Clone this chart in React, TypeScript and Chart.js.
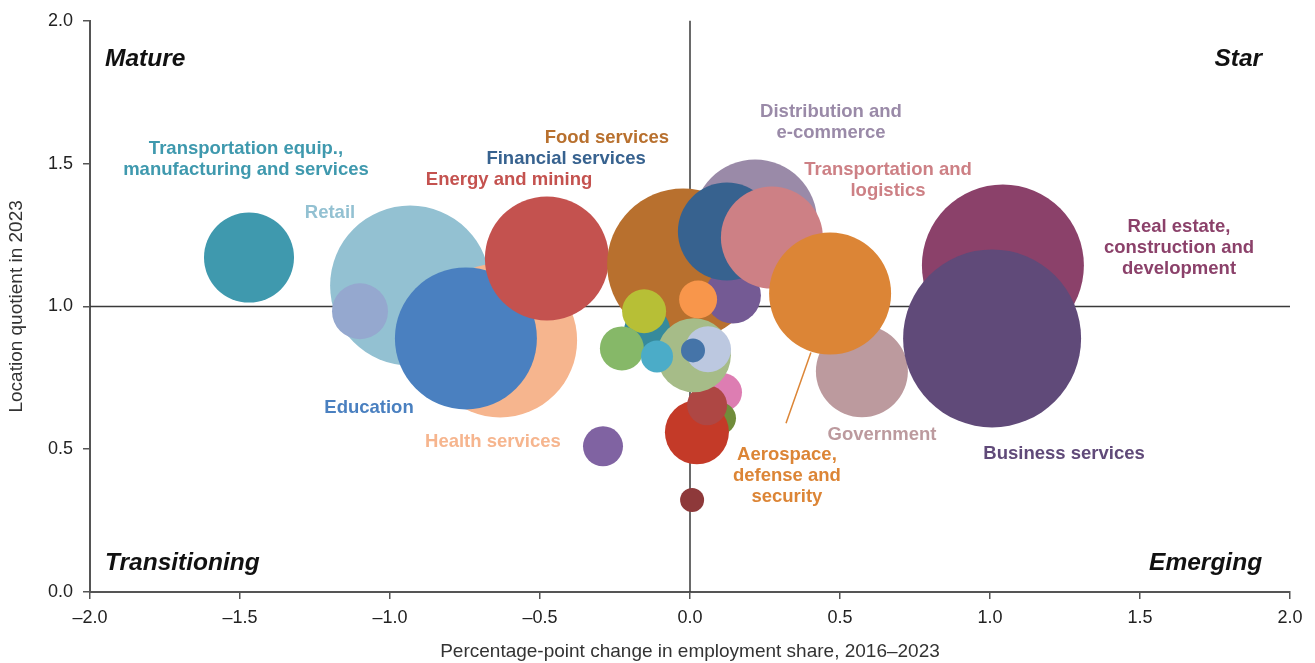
import React, { useEffect, useRef } from "react";
import { Chart, registerables } from "chart.js";

Chart.register(...registerables);

// ---------- data (drawing order: later items sit on top) ----------
const industries = [
  "Retail", "Other services A", "Health services", "Education",
  "Transportation equip., manufacturing and services", "Energy and mining",
  "Food services", "Distribution and e-commerce", "Other services B",
  "Financial services", "Other services C", "Transportation and logistics",
  "Government", "Aerospace, defense and security",
  "Real estate, construction and development", "Business services",
  "Other services D", "Other services E", "Other services F", "Other services G",
  "Other services H", "Other services I", "Other services J", "Other services K",
  "Other services L", "Other services M", "Other services N", "Other services O",
  "Other services P",
];
const shareChange = [
  -0.933, -1.1, -0.633, -0.747,
  -1.47, -0.477,
  -0.023, 0.217, 0.143,
  0.123, 0.027, 0.273,
  0.573, 0.467,
  1.043, 1.007,
  -0.143, -0.153, -0.227, 0.11,
  0.1, 0.023, 0.057, 0.013,
  -0.11, 0.06, 0.01, -0.29,
  0.007,
];
const locationQuotient = [
  1.073, 0.983, 0.881, 0.888,
  1.171, 1.168,
  1.147, 1.297, 1.038,
  1.262, 1.024, 1.241,
  0.773, 1.045,
  1.143, 0.888,
  0.916, 0.983, 0.853, 0.699,
  0.608, 0.559, 0.654, 0.829,
  0.825, 0.85, 0.846, 0.51,
  0.322,
];
// relative employment (bubble area)
const employmentIndex = [
  64.0, 7.84, 59.29, 50.41,
  20.25, 38.44,
  57.76, 38.44, 7.84,
  24.01, 3.61, 26.01,
  21.16, 37.21,
  65.61, 79.21,
  5.29, 4.84, 4.84, 3.61,
  2.56, 10.24, 4.0, 13.69,
  2.56, 5.29, 1.44, 4.0,
  1.44,
];
const bubbleColors = [
  "#93c1d2", "#95a8cf", "#f6b58e", "#4a80c0",
  "#3f99ae", "#c4524f",
  "#b8702e", "#9a8aa8", "#745a94",
  "#37628f", "#f8964b", "#cd8085",
  "#bc9a9e", "#dc8536",
  "#8b416a", "#604a79",
  "#368a9c", "#b7bf36", "#86b868", "#dd7db2",
  "#708c3a", "#c43a28", "#ae4744", "#a6bc88",
  "#4bacc8", "#bcc8e0", "#4574a8", "#8063a2",
  "#8e393a",
];

// text annotations (data coordinates of block centre)
const noteLines = [
  ["Transportation equip.,", "manufacturing and services"],
  ["Retail"],
  ["Energy and mining"],
  ["Financial services"],
  ["Food services"],
  ["Distribution and", "e-commerce"],
  ["Transportation and", "logistics"],
  ["Real estate,", "construction and", "development"],
  ["Government"],
  ["Business services"],
  ["Aerospace,", "defense and", "security"],
  ["Health services"],
  ["Education"],
];
const noteX = [-1.48, -1.2, -0.603, -0.413, -0.277, 0.47, 0.66, 1.63, 0.64, 1.247, 0.323, -0.657, -1.07];
const noteY = [1.514, 1.329, 1.444, 1.517, 1.591, 1.645, 1.442, 1.206, 0.549, 0.483, 0.406, 0.524, 0.643];
const noteColors = [
  "#3f99ae", "#93c1d2", "#c4524f", "#37628f", "#b8702e", "#9a8aa8", "#cd8085",
  "#8b416a", "#bc9a9e", "#604a79", "#dc8536", "#f6b58e", "#4a80c0",
];
const leaderX = [0.32, 0.403];
const leaderY = [0.591, 0.839];

const quadrantNames = ["Mature", "Star", "Transitioning", "Emerging"];
const quadrantX = [-1.95, 1.907, -1.95, 1.907];
const quadrantY = [1.864, 1.864, 0.101, 0.101];
const quadrantAlign = ["left", "right", "left", "right"];

const xTicks = [-2, -1.5, -1, -0.5, 0, 0.5, 1, 1.5, 2];
const yTicks = [0, 0.5, 1, 1.5, 2];

const FONT = "'Liberation Sans', Arial, Helvetica, sans-serif";

const fmt = (v: number) => (v < 0 ? "\u2013" + Math.abs(v).toFixed(1) : v.toFixed(1));

const overlayPlugin = {
  id: "overlay",
  beforeDatasetsDraw(chart: any) {
    const { ctx, chartArea, scales } = chart;
    const x0 = scales.x.getPixelForValue(0);
    const y1 = scales.y.getPixelForValue(1);
    ctx.save();
    ctx.strokeStyle = "#3a3a3a";
    ctx.lineWidth = 1.5;
    ctx.beginPath();
    ctx.moveTo(x0, chartArea.top);
    ctx.lineTo(x0, chartArea.bottom);
    ctx.moveTo(chartArea.left, y1);
    ctx.lineTo(chartArea.right, y1);
    ctx.stroke();
    ctx.restore();
  },
  afterDatasetsDraw(chart: any) {
    const { ctx, scales } = chart;
    const sx = scales.x, sy = scales.y;
    ctx.save();
    // leader line
    ctx.strokeStyle = "#dc8536";
    ctx.lineWidth = 1.5;
    ctx.beginPath();
    ctx.moveTo(sx.getPixelForValue(leaderX[0]), sy.getPixelForValue(leaderY[0]));
    ctx.lineTo(sx.getPixelForValue(leaderX[1]), sy.getPixelForValue(leaderY[1]));
    ctx.stroke();
    // labels
    ctx.font = `bold 18.5px ${FONT}`;
    ctx.textAlign = "center";
    ctx.textBaseline = "middle";
    const lh = 21;
    noteLines.forEach((lines, i) => {
      const cx = sx.getPixelForValue(noteX[i]);
      const cy = sy.getPixelForValue(noteY[i]);
      ctx.fillStyle = noteColors[i];
      const start = cy - ((lines.length - 1) * lh) / 2;
      lines.forEach((t, j) => ctx.fillText(t, cx, start + j * lh));
    });
    // quadrant names
    ctx.font = `italic bold 24.5px ${FONT}`;
    ctx.fillStyle = "#111";
    quadrantNames.forEach((t, i) => {
      ctx.textAlign = quadrantAlign[i] as CanvasTextAlign;
      ctx.fillText(t, sx.getPixelForValue(quadrantX[i]), sy.getPixelForValue(quadrantY[i]));
    });
    ctx.restore();
  },
};

export default function App() {
  const ref = useRef<HTMLCanvasElement | null>(null);
  useEffect(() => {
    if (!ref.current) return;
    Chart.defaults.font.family = FONT;
    const data = industries.map((_, i) => ({
      x: shareChange[i],
      y: locationQuotient[i],
      r: Math.sqrt(employmentIndex[i]) * 10,
    }));
    const chart = new Chart(ref.current, {
      type: "bubble",
      data: {
        datasets: [
          {
            label: "Industries",
            data,
            backgroundColor: bubbleColors,
            borderWidth: 0,
            hoverBorderWidth: 0,
            clip: false,
          },
        ],
      },
      options: {
        responsive: false,
        animation: false,
        events: [],
        layout: { autoPadding: false, padding: { top: 20, right: 25, left: 0, bottom: 0 } },
        plugins: { legend: { display: false }, tooltip: { enabled: false } },
        scales: {
          x: {
            type: "linear",
            min: -2,
            max: 2,
            afterBuildTicks: (s: any) => {
              s.ticks = xTicks.map((v) => ({ value: v }));
            },
            afterFit: (s: any) => {
              s.height = 71;
            },
            ticks: {
              callback: (v: any) => fmt(Number(v)),
              font: { size: 18 },
              color: "#222",
              padding: 8,
              maxRotation: 0,
            },
            grid: { drawOnChartArea: false, drawTicks: true, tickLength: 7, color: "#555", lineWidth: 1.5 },
            border: { color: "#555", width: 2 },
            title: {
              display: true,
              text: "Percentage-point change in employment share, 2016\u20132023",
              font: { size: 19 },
              color: "#333",
              padding: { top: 4, bottom: 0 },
            },
          },
          y: {
            type: "linear",
            min: 0,
            max: 2,
            afterBuildTicks: (s: any) => {
              s.ticks = yTicks.map((v) => ({ value: v }));
            },
            afterFit: (s: any) => {
              s.width = 90;
            },
            ticks: {
              callback: (v: any) => fmt(Number(v)),
              font: { size: 18 },
              color: "#222",
              padding: 10,
            },
            grid: { drawOnChartArea: false, drawTicks: true, tickLength: 7, color: "#555", lineWidth: 1.5 },
            border: { color: "#555", width: 2 },
            title: {
              display: true,
              text: "Location quotient in 2023",
              font: { size: 19 },
              color: "#333",
              padding: { top: 5, bottom: 4 },
            },
          },
        },
      },
      plugins: [overlayPlugin],
    });
    return () => chart.destroy();
  }, []);
  return (
    <div style={{ position: "fixed", left: 0, top: 0, width: 1315, height: 663, background: "#fff" }}>
      <canvas ref={ref} width={1315} height={663} style={{ width: 1315, height: 663, display: "block" }} />
    </div>
  );
}
